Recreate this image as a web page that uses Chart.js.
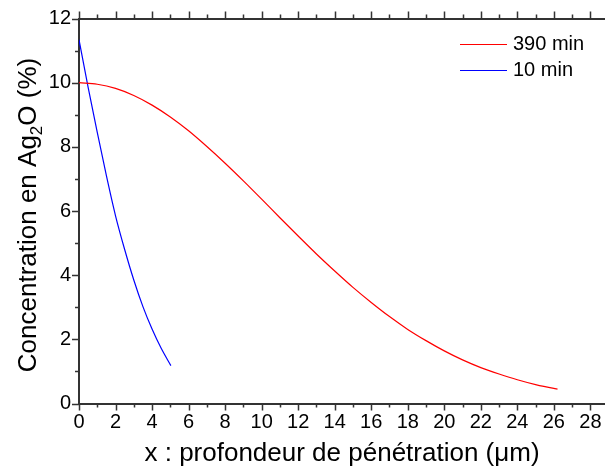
<!DOCTYPE html>
<html>
<head>
<meta charset="utf-8">
<script src="https://cdn.jsdelivr.net/npm/chart.js@4.4.0/dist/chart.umd.min.js"></script>
<style>
  body { margin: 0; background: #fff; overflow: hidden; }
  canvas { display: block; }
</style>
</head>
<body>
<canvas id="chart" width="605" height="475"></canvas>
<script>
// données
const seriesNames = ['390 min', '10 min'];
const xRed = [0, 1, 2, 3, 4, 5, 6, 7, 8, 9, 10, 11, 12, 13, 14, 15, 16, 17, 18, 19, 20, 21, 22, 23, 24, 25, 26, 26.2];
const yRed = [10, 9.95, 9.82, 9.6, 9.3, 8.93, 8.5, 8.01, 7.49, 6.94, 6.37, 5.79, 5.22, 4.66, 4.13, 3.62, 3.15, 2.71, 2.31, 1.96, 1.64, 1.36, 1.12, 0.92, 0.74, 0.59, 0.47, 0.45];
const xBlue = [0, 0.5, 1, 1.5, 2, 2.5, 3, 3.5, 4, 4.5, 5.03];
const yBlue = [11.34, 9.85, 8.45, 7.1, 5.85, 4.8, 3.85, 3.02, 2.32, 1.72, 1.18];
const xMax = 28.8;
const yMax = 12;

const FONT = "'Liberation Sans', Arial, sans-serif";
const AXIS = '#333';

function toPoints(xs, ys) {
    return xs.map((x, i) => ({ x: x, y: ys[i] }));
}

// ticks majeurs / mineurs, titres et légende
const decor = {
    id: 'decor',
    afterDraw(chart) {
        const ctx = chart.ctx;
        const area = chart.chartArea;
        const sx = chart.scales.x;
        const sy = chart.scales.y;
        ctx.save();
        ctx.strokeStyle = AXIS;
        ctx.lineWidth = 1.5;
        ctx.beginPath();
        sx.ticks.forEach(t => {
            const px = Math.round(sx.getPixelForValue(t.value)) + 0.5;
            const len = t.value % 2 === 0 ? 7 : 4;
            ctx.moveTo(px, area.bottom);
            ctx.lineTo(px, area.bottom + len);
            ctx.moveTo(px, area.top);
            ctx.lineTo(px, area.top - len);
        });
        sy.ticks.forEach(t => {
            const py = Math.round(sy.getPixelForValue(t.value)) + 0.5;
            const len = t.value % 2 === 0 ? 7 : 4;
            ctx.moveTo(area.left, py);
            ctx.lineTo(area.left - len, py);
        });
        ctx.stroke();

        // titre axe x
        ctx.fillStyle = '#000';
        ctx.font = '26px ' + FONT;
        ctx.textAlign = 'center';
        ctx.textBaseline = 'alphabetic';
        ctx.fillText('x : profondeur de pénétration (μm)', (area.left + area.right) / 2, 461);

        // titre axe y avec indice
        ctx.save();
        ctx.translate(36, 215);
        ctx.rotate(-Math.PI / 2);
        const parts = [
            { t: 'Concentration en Ag', f: '26px ' + FONT, dy: 0 },
            { t: '2', f: '17px ' + FONT, dy: 6 },
            { t: 'O (%)', f: '26px ' + FONT, dy: 0 }
        ];
        let total = 0;
        parts.forEach(p => { ctx.font = p.f; p.w = ctx.measureText(p.t).width; total += p.w; });
        let cx = -total / 2;
        ctx.textAlign = 'left';
        parts.forEach(p => {
            ctx.font = p.f;
            ctx.fillText(p.t, cx, p.dy);
            cx += p.w;
        });
        ctx.restore();

        // légende
        ctx.font = '20px ' + FONT;
        ctx.textAlign = 'left';
        ctx.textBaseline = 'middle';
        chart.data.datasets.forEach((ds, i) => {
            const y = 44.5 + i * 26;
            ctx.strokeStyle = ds.borderColor;
            ctx.lineWidth = 1.2;
            ctx.beginPath();
            ctx.moveTo(460, y);
            ctx.lineTo(507, y);
            ctx.stroke();
            ctx.fillStyle = '#000';
            ctx.fillText(ds.label, 513, y);
        });
        ctx.restore();
    }
};

const hiddenGrid = { display: true, drawOnChartArea: false, drawTicks: true, tickLength: 7, color: 'rgba(0,0,0,0)' };

new Chart(document.getElementById('chart'), {
    type: 'scatter',
    data: {
        datasets: [
            {
                label: seriesNames[0],
                data: toPoints(xRed, yRed),
                borderColor: '#ff0000',
                borderWidth: 1.2,
                showLine: true,
                pointRadius: 0,
                cubicInterpolationMode: 'monotone'
            },
            {
                label: seriesNames[1],
                data: toPoints(xBlue, yBlue),
                borderColor: '#0000ff',
                borderWidth: 1.2,
                showLine: true,
                pointRadius: 0,
                cubicInterpolationMode: 'monotone'
            }
        ]
    },
    options: {
        responsive: false,
        animation: false,
        devicePixelRatio: 1,
        layout: { padding: 0 },
        plugins: {
            legend: { display: false },
            tooltip: { enabled: false }
        },
        scales: {
            x: {
                type: 'linear',
                position: 'bottom',
                min: 0,
                max: xMax,
                grid: hiddenGrid,
                border: { display: true, color: AXIS, width: 2 },
                ticks: {
                    stepSize: 1,
                    includeBounds: false,
                    autoSkip: false,
                    maxRotation: 0,
                    padding: 0,
                    color: '#000',
                    font: { family: FONT, size: 20 },
                    callback: v => (v % 2 === 0 ? String(v) : '')
                },
                afterFit: s => { s.height = 71.5; }
            },
            x2: {
                type: 'linear',
                position: 'top',
                min: 0,
                max: xMax,
                grid: hiddenGrid,
                border: { display: true, color: AXIS, width: 2 },
                ticks: { display: false, stepSize: 1, includeBounds: false },
                afterFit: s => { s.height = 18.5; }
            },
            y: {
                type: 'linear',
                min: 0,
                max: yMax,
                grid: hiddenGrid,
                border: { display: true, color: AXIS, width: 2 },
                ticks: {
                    stepSize: 1,
                    autoSkip: false,
                    padding: 1,
                    color: '#000',
                    font: { family: FONT, size: 20 },
                    callback: v => (v % 2 === 0 ? String(v) : '')
                },
                afterFit: s => { s.width = 79; }
            }
        }
    },
    plugins: [decor]
});
</script>
</body>
</html>
